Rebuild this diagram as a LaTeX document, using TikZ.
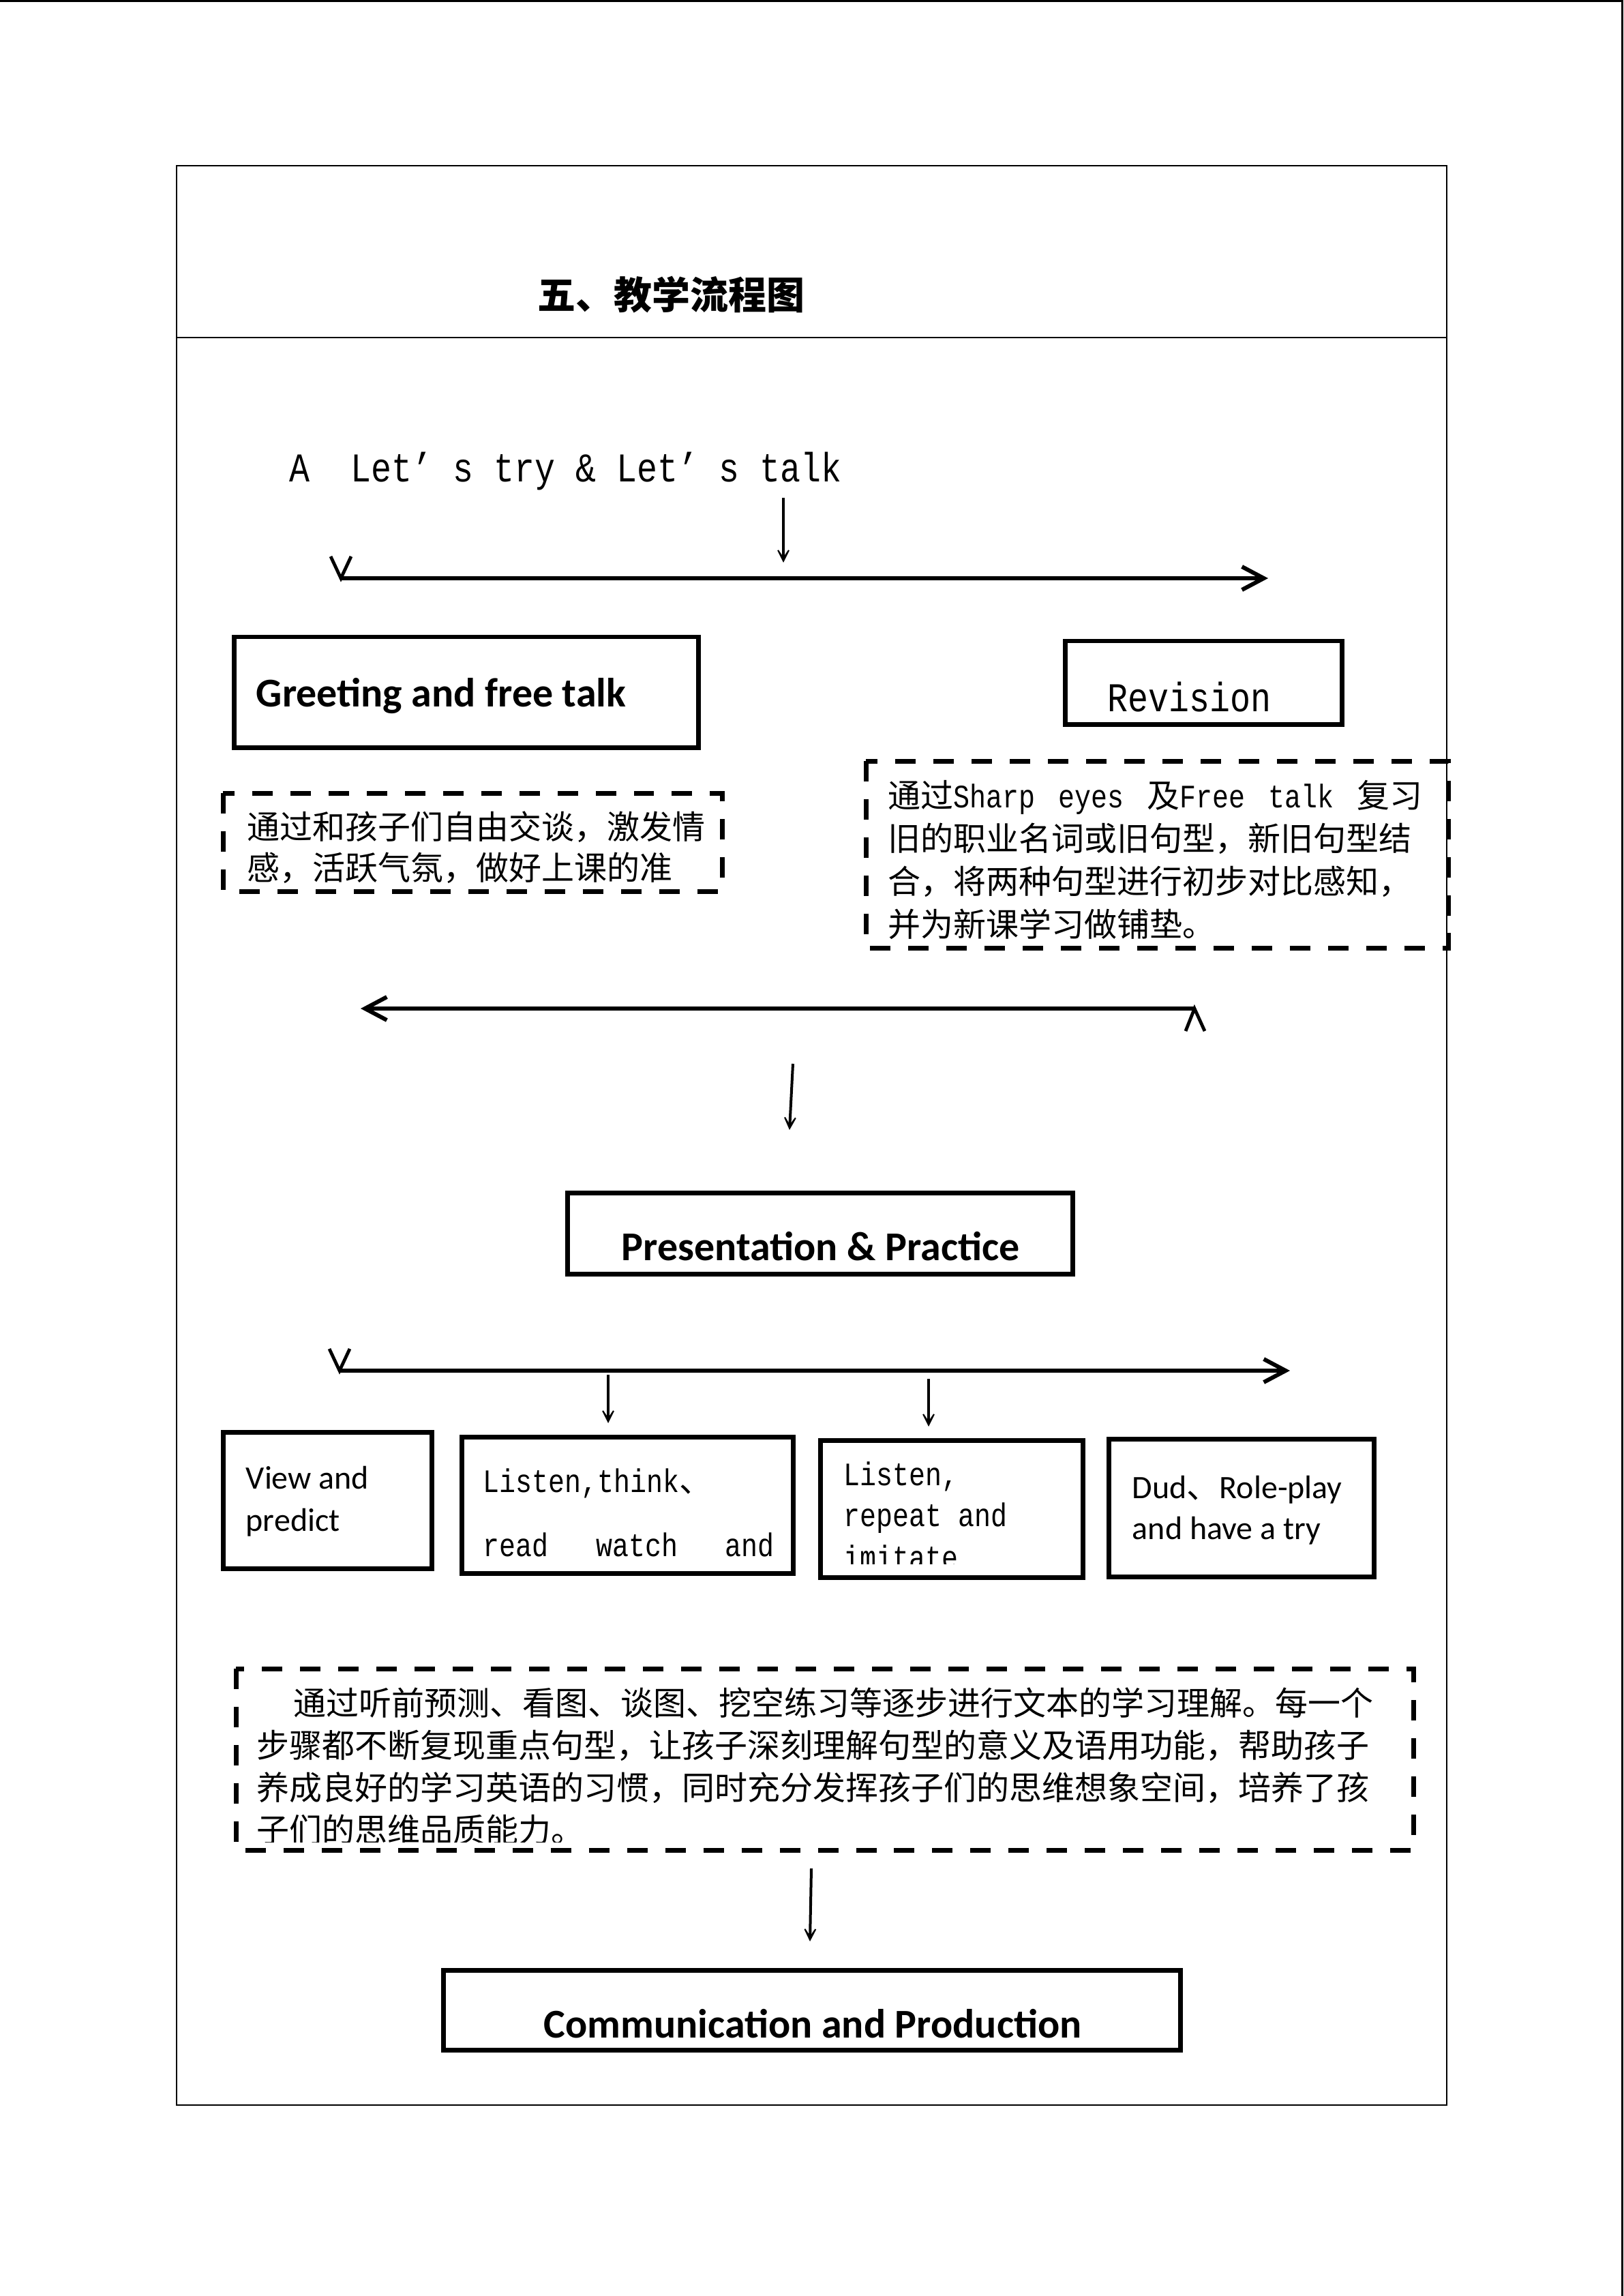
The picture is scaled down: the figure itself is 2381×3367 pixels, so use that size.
\documentclass[tikz,border=0pt]{standalone}
\usepackage{fontspec}
\setmainfont{Carlito}
\newfontfamily\cjk{Noto Sans CJK SC}
\newfontfamily\simmono[FakeStretch=0.833]{Liberation Mono}
\usetikzlibrary{arrows.meta}

\begin{document}
\begin{tikzpicture}[x=0.2501pt,y=-0.2501pt,
	box/.style={draw,line width=1.75pt},
	dbox/.style={draw,line width=1.75pt,dash pattern=on 7.5pt off 6.5pt},
	bararrow/.style={line width=1.5pt,-{Straight Barb[length=8pt,width=8.5pt]}},
	thinarrow/.style={line width=1pt,-{Stealth[length=8pt,width=8pt,inset=6pt]}},
	tick/.style={line width=1.2pt},
	hd/.style={font=\fontsize{15pt}{18pt}\selectfont\bfseries},
	lbl/.style={font=\fontsize{12pt}{14pt}\selectfont},
	mono/.style={font=\simmono\fontsize{12pt}{14pt}\selectfont},
	zh/.style={font=\cjk\fontsize{12pt}{14pt}\selectfont},
	every node/.style={inner sep=0pt,anchor=base west}]
	\useasboundingbox (0,0) rectangle (2381,3367);
	\draw[line width=0.75pt] (0,1.5) -- (2379.5,1.5) -- (2379.5,3367);
	% frame and title
	\draw[line width=0.6pt] (259,243) rectangle (2122,3087);
	\draw[line width=0.6pt] (259,495) -- (2122,495);
	\path (788,454) node[font=\cjk\fontsize{14pt}{16pt}\selectfont\bfseries] (title) {五、教学流程图};
	\path (424,707) node[font=\simmono\fontsize{15pt}{18pt}\selectfont] (unit) {A\ \ Let’ s try \& Let’ s talk};
	% first row
	\coordinate (u1) at (1149,730);
	\coordinate (u2) at (1149,825);
	\draw[thinarrow] (u1) -- (u2);
	\coordinate (a1) at (500,848);
	\coordinate (a2) at (1860,848);
	\draw[bararrow] (a1) -- (a2);
	\draw[tick] (a1) ++(-15,-32) -- (a1) -- ++(15,-32);
	\draw[box] (343,934) rectangle (1024,1096);
	\path (375,1036) node[hd] (greet) {Greeting and free talk};
	\draw[box] (1562,940) rectangle (1968,1062);
	\path (1624,1043) node[font=\simmono\fontsize{15pt}{18pt}\selectfont] (rev) {Revision};
	\draw[dbox] (327,1163) rectangle (1059,1307);
	\path (362,1230) node[zh] (greetA) {通过和孩子们自由交谈，激发情};
	\path (362,1290) node[zh] (greetB) {感，活跃气氛，做好上课的准};
	\draw[dbox] (1270,1116) rectangle (2124,1390);
	\path (1302,1184) node[mono] (revA) {\makebox[196pt][s]{{\cjk 通过}Sharp\hfill eyes\hfill{\cjk 及}Free\hfill talk\hfill{\cjk 复习}}};
	\path (1302,1247) node[zh] (revB) {旧的职业名词或旧句型，新旧句型结};
	\path (1302,1310) node[zh] (revC) {合，将两种句型进行初步对比感知，};
	\path (1302,1373) node[zh] (revD) {并为新课学习做铺垫。};
	% back to the middle
	\coordinate (r1) at (1752,1479);
	\coordinate (r2) at (529,1479);
	\draw[bararrow] (r1) -- (r2);
	\draw[tick] (r1) ++(-13,33) -- (r1) -- ++(15,33);
	\coordinate (p1) at (1163,1560);
	\coordinate (p2) at (1158,1657);
	\draw[thinarrow] (p1) -- (p2);
	\draw[box] (832,1749) rectangle (1573,1868);
	\path (911,1848) node[hd] (pres) {Presentation \& Practice};
	% second row
	\coordinate (b1) at (498,2010);
	\coordinate (b2) at (1892,2010);
	\draw[bararrow] (b1) -- (b2);
	\draw[tick] (b1) ++(-15,-32) -- (b1) -- ++(15,-32);
	\coordinate (d1) at (892,2016);
	\coordinate (d2) at (892,2087);
	\draw[thinarrow] (d1) -- (d2);
	\coordinate (d3) at (1362,2022);
	\coordinate (d4) at (1362,2092);
	\draw[thinarrow] (d3) -- (d4);
	\draw[box] (327,2100) rectangle (633,2300);
	\path (360,2183) node[lbl] (viewA) {View and};
	\path (360,2245) node[lbl] (viewB) {predict};
	\draw[box] (677,2107) rectangle (1163,2307);
	\path (708,2188) node[mono] (listA) {Listen,think{\cjk 、}};
	\path (708,2282) node[mono] (listB) {\makebox[106.75pt][s]{read\hfill watch\hfill and}};
	\draw[box] (1203,2112) rectangle (1588,2313);
	\path (1237,2178) node[mono] (repA) {Listen,};
	\path (1237,2238) node[mono] (repB) {repeat and};
	\begin{scope}
		\clip (1203,2112) rectangle (1588,2293);
		\path (1237,2300) node[mono] (repC) {imitate};
	\end{scope}
	\draw[box] (1626,2110) rectangle (2015,2312);
	\path (1660,2197) node[lbl] (roleA) {Dud{\cjk 、}Role-play};
	\path (1660,2257) node[lbl] (roleB) {and have a try};
	% notes on the second row
	\draw[dbox] (346,2447) rectangle (2073,2713);
	\path (430,2515) node[zh] (noteA) {通过听前预测、看图、谈图、挖空练习等逐步进行文本的学习理解。每一个};
	\path (376,2577) node[zh] (noteB) {步骤都不断复现重点句型，让孩子深刻理解句型的意义及语用功能，帮助孩子};
	\path (376,2639) node[zh] (noteC) {养成良好的学习英语的习惯，同时充分发挥孩子们的思维想象空间，培养了孩};
	\begin{scope}
		\clip (346,2447) rectangle (2073,2701);
		\path (376,2701) node[zh] (noteD) {子们的思维品质能力。};
	\end{scope}
	% last step
	\coordinate (c1) at (1190,2740);
	\coordinate (c2) at (1188,2847);
	\draw[thinarrow] (c1) -- (c2);
	\draw[box] (650,2889) rectangle (1731,3006);
	\path (797,2988) node[hd] (comm) {Communication and Production};
\end{tikzpicture}
\end{document}
